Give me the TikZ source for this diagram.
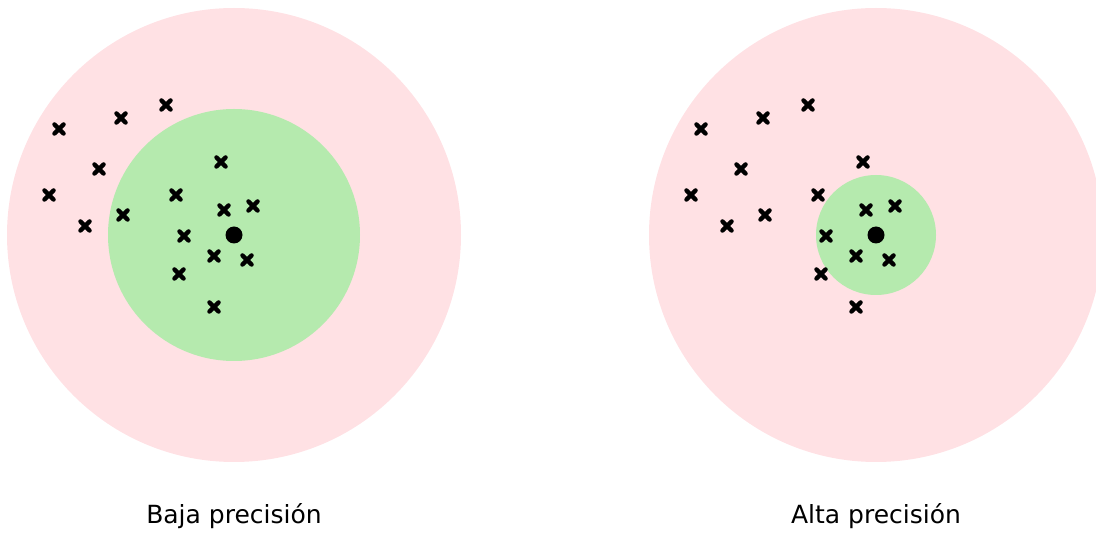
\documentclass[tikz,border=0pt]{standalone}
\usepackage{fontspec}
\setmainfont{DejaVu Sans}
\definecolor{pinkzone}{RGB}{255,225,228}
\definecolor{greenzone}{RGB}{181,234,174}
\tikzset{
  outerzone/.style={fill=pinkzone, draw=none},
  innerzone/.style={fill=greenzone, draw=none},
  target/.style={circle, fill=black, inner sep=0pt, minimum size=17pt},
  hit/.style={line width=4.3pt, line cap=round},
  caption/.style={font=\fontsize{25}{30}\selectfont, anchor=base}
}
\newcommand{\shot}[2]{\draw[hit] (#1-4.6,#2-4.6) -- (#1+4.6,#2+4.6) (#1-4.6,#2+4.6) -- (#1+4.6,#2-4.6);}
\begin{document}
\begin{tikzpicture}[x=1pt,y=-1pt]
\useasboundingbox (0,0) rectangle (1096,534);
\clip (0,0) rectangle (1096,534);
% left target
\fill[outerzone] (234,235) circle (227);
\fill[innerzone] (234,235) circle (126);
\node[target] (c1) at (234,235) {};
% right target
\fill[outerzone] (876,235) circle (227);
\fill[innerzone] (876,235) circle (60);
\node[target] (c2) at (876,235) {};
\foreach \dx in {0,642}{
  \foreach \px/\py in {59/129,121/118,166/105,99/169,49/195,85/226,123/215,221/162,176/195,224/210,253/206,184/236,214/256,247/260,179/274,214/307}{
    \pgfmathsetmacro{\qx}{\px+\dx}
    \shot{\qx}{\py}
  }
}
\node[caption] (l1) at (234,524) {Baja precisión};
\node[caption] (l2) at (876,524) {Alta precisión};
\end{tikzpicture}
\end{document}
